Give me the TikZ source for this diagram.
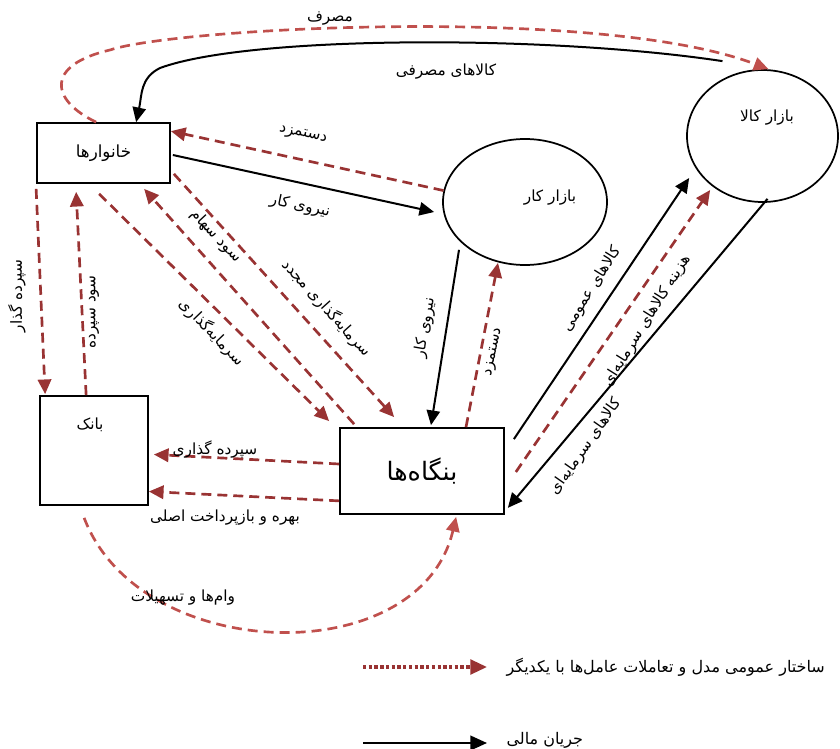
\documentclass[tikz,border=0pt]{standalone}
\usepackage{fontspec}
\usetikzlibrary{arrows.meta,calc,shapes.geometric}
\newfontfamily\arabicfont[Script=Arabic]{DejaVu Sans}
\TeXXeTstate=1
\newcommand\fa[1]{{\arabicfont\beginR #1\endR}}
\newcommand\zw{\char"200C\relax}
\definecolor{rd}{RGB}{153,51,51}
\definecolor{rl}{RGB}{192,80,77}
\begin{document}
\begin{tikzpicture}[x=0.75pt,y=-0.75pt,
  box/.style={draw,line width=1.3pt,rectangle,inner sep=0pt},
  ell/.style={draw,line width=1.3pt,ellipse,inner sep=0pt},
  txt/.style={font=\arabicfont\fontsize{11.5}{13}\selectfont, inner sep=1pt},
  flow/.style={draw=black,line width=1.5pt, -{Triangle[length=11pt,width=10pt]}},
  trans/.style={draw=rd, line width=2pt, dash pattern=on 7.5pt off 4.5pt, -{Triangle[length=11pt,width=10pt]}},
  transc/.style={trans, draw=rl},
]
\useasboundingbox (0,0) rectangle (840,749);
% nodes
\node[box, minimum width=99.75pt, minimum height=45pt, txt, font=\arabicfont\fontsize{12.5}{14}\selectfont] (hh) at (103.5,153) {\fa{خانوارها}};
\node[box, minimum width=81pt, minimum height=81.75pt] (bank) at (94,450.5) {};
\node[txt] (bankt) at (90,425) {\fa{بانک}};
\node[box, minimum width=123pt, minimum height=64.5pt, font=\arabicfont\fontsize{19}{21}\selectfont] (firm) at (422,471) {\fa{بنگاه\zw ها}};
\node[ell, minimum width=123pt, minimum height=94.5pt] (lm) at (525,202) {};
\node[txt] (lmt) at (550,198) {\fa{بازار کار}};
\node[ell, minimum width=113.25pt, minimum height=99pt] (gm) at (762.5,136) {};
\node[txt] (gmt) at (767,118) {\fa{بازار کالا}};

% consumption
\draw[transc] ($(hh.north west)+(60,0)$) .. controls (50,100) and (45,65) .. (110,50) .. controls (175,28) and (600,5) .. ($(gm.north)+(6,0)$);
\draw[flow] ($(gm.north)+(-40,-8)$) .. controls (550,35) and (250,35) .. (160,68) .. controls (140,78) and (142,95) .. ($(hh.north west)+(100,0)$);
% labour market
\draw[trans] (lm.172) -- ($(hh.north east)+(0,9)$);
\draw[flow] ($(hh.east)+(2,2)$) -- ($(lm.west)+(-8,10)$);
\draw[flow] ($(lm.south)+(-66,-16)$) -- ($(firm.north)+(9,-2)$);
\draw[trans] ($(firm.north)+(44,0)$) -- ($(lm.south)+(-27,-3)$);
% diagonals
\draw[trans] ($(hh.south west)+(63,10)$) -- ($(firm.north west)+(-10,-6)$);
\draw[trans] ($(firm.north west)+(15,-3)$) -- ($(hh.south west)+(108,5)$);
\draw[trans] ($(hh.south east)+(3,-10)$) -- ($(firm.north west)+(55,-10)$);
% household - bank
\draw[trans] ($(hh.south west)+(0,5)$) -- ($(bank.north west)+(6,-1)$);
\draw[trans] ($(bank.north west)+(47,0)$) -- ($(hh.south west)+(40,8)$);
% firm - bank
\draw[trans] ($(firm.west)+(0,-7)$) -- ($(bank.east)+(5,4)$);
\draw[trans] ($(firm.south west)+(0,-14)$) -- ($(bank.east)+(0,41)$);
\draw[transc] ($(bank.south west)+(45,12)$) .. controls (140,665) and (420,672) .. ($(firm.south west)+(117,2)$);
% goods market
\draw[flow] ($(firm.north east)+(9,12)$) -- ($(gm.west)+(3,42)$);
\draw[trans] ($(firm.east)+(11,1)$) -- ($(gm.west)+(24,54)$);
\draw[flow] ($(gm.south)+(5,-4)$) -- ($(firm.south east)+(3,-7)$);

% labels
\node[txt] (l1) at (330,19) {\fa{مصرف}};
\node[txt] (l2) at (446,72) {\fa{کالاهای مصرفی}};
\node[txt, rotate=-12] (l3) at (303,135) {\fa{دستمزد}};
\node[txt, rotate=-12] (l4) at (300,206) {\fa{نیروی کار}};
\node[txt, rotate=-47] (l5) at (216,236) {\fa{سود سهام}};
\node[txt, rotate=-48] (l6) at (327,308) {\fa{سرمایه\zw گذاری مجدد}};
\node[txt, rotate=-46] (l7) at (212,332) {\fa{سرمایه\zw گذاری}};
\node[txt, rotate=90] (l8) at (17,296) {\fa{سپرده گذار}};
\node[txt, rotate=90] (l9) at (94,312) {\fa{سود سپرده}};
\node[txt, rotate=80] (l10) at (425,328) {\fa{نیروی کار}};
\node[txt, rotate=78] (l11) at (494,352) {\fa{دستمزد}};
\node[txt, rotate=58] (l12) at (592,289) {\fa{کالاهای عمومی}};
\node[txt, rotate=58] (l13) at (647,321) {\fa{هزینه کالاهای سرمایه\zw ای}};
\node[txt, rotate=55] (l14) at (586,447) {\fa{کالاهای سرمایه\zw ای}};
\node[txt] (l15) at (215,450) {\fa{سپرده گذاری}};
\node[txt] (l16) at (225,518) {\fa{بهره و بازپرداخت اصلی}};
\node[txt] (l17) at (183,598) {\fa{وام\zw ها و تسهیلات}};

% legend
\coordinate (la1) at (363,667);
\coordinate (lb1) at (487,667);
\draw[rd, line width=2.5pt, dash pattern=on 2.5pt off 1.8pt, -{Triangle[length=12.5pt,width=11pt]}] (la1) -- (lb1);
\node[txt, anchor=west, font=\arabicfont\fontsize{12}{14}\selectfont] (lt1) at (505,667) {\fa{ساختار عمومی مدل و تعاملات عامل\zw ها با یکدیگر}};
\coordinate (la2) at (363,743);
\coordinate (lb2) at (487,743);
\draw[flow, -{Triangle[length=12.5pt,width=11pt]}] (la2) -- (lb2);
\node[txt, anchor=west, font=\arabicfont\fontsize{12}{14}\selectfont] (lt2) at (505,740) {\fa{جریان مالی}};
\end{tikzpicture}
\end{document}
